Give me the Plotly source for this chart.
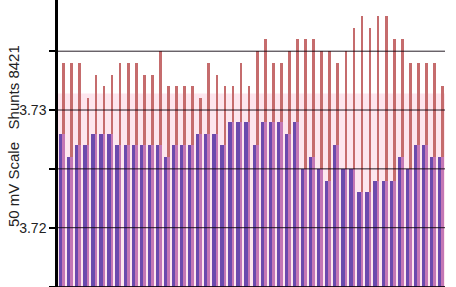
import plotly.graph_objects as go

# Data (48 readings)
red_vals = [3.734, 3.734, 3.734, 3.731, 3.733, 3.732, 3.733, 3.734, 3.734, 3.734,
            3.733, 3.733, 3.735, 3.732, 3.732, 3.732, 3.732, 3.731, 3.734, 3.733,
            3.732, 3.732, 3.734, 3.732, 3.735, 3.736, 3.734, 3.734, 3.735, 3.736,
            3.736, 3.736, 3.735, 3.735, 3.734, 3.735, 3.737, 3.738, 3.737, 3.738,
            3.738, 3.736, 3.736, 3.734, 3.734, 3.734, 3.734, 3.732]
purple_vals = [3.728, 3.726, 3.727, 3.727, 3.728, 3.728, 3.728, 3.727, 3.727, 3.727,
               3.727, 3.727, 3.727, 3.726, 3.727, 3.727, 3.727, 3.728, 3.728, 3.728,
               3.727, 3.729, 3.729, 3.729, 3.727, 3.729, 3.729, 3.729, 3.728, 3.729,
               3.725, 3.726, 3.725, 3.724, 3.727, 3.725, 3.725, 3.723, 3.723, 3.724,
               3.724, 3.724, 3.726, 3.725, 3.727, 3.727, 3.726, 3.726]
idx = list(range(len(red_vals)))

tick_vals = [3.715, 3.72, 3.725, 3.73, 3.735]
tick_text = ["", "3.72", "", "3.73", ""]
y_range = [3.71496, 3.73935]
band_top = 3.7314

RED = "#c56c6d"
MAGENTA = "#c477b5"
PURPLE = "#6b4aad"
PINK = "#fde6ee"

fig = go.Figure()
fig.add_trace(go.Bar(x=idx, y=red_vals, offset=0.04, width=0.33,
                     marker=dict(color=RED, line=dict(width=0)), showlegend=False))
fig.add_trace(go.Bar(x=idx, y=purple_vals, offset=0.04, width=0.33,
                     marker=dict(color=MAGENTA, line=dict(width=0)), showlegend=False))
fig.add_trace(go.Bar(x=idx, y=purple_vals, offset=-0.37, width=0.41,
                     marker=dict(color=PURPLE, line=dict(width=0)), showlegend=False))

shapes = [dict(type="rect", xref="paper", yref="y", x0=0, x1=1, y0=y_range[0], y1=band_top,
               fillcolor=PINK, line=dict(width=0), layer="below")]
for v in tick_vals:
    shapes.append(dict(type="line", xref="paper", yref="y", x0=0, x1=1, y0=v, y1=v,
                       line=dict(color="rgba(15,5,15,0.9)", width=1), layer="above"))

fig.update_layout(
    width=456, height=287,
    margin=dict(l=58, r=11, t=0, b=0),
    paper_bgcolor="white", plot_bgcolor="white",
    barmode="overlay", bargap=0,
    shapes=shapes,
    xaxis=dict(visible=False, range=[-0.5, len(red_vals) - 0.5]),
    yaxis=dict(range=y_range, showgrid=False, zeroline=False,
               showline=True, linecolor="black", linewidth=2.5,
               ticks="outside", ticklen=6, tickwidth=1.5, tickcolor="black",
               tickvals=tick_vals, ticktext=tick_text,
               tickfont=dict(family="Liberation Sans, Arial, sans-serif", size=14, color="#222")),
    annotations=[dict(text="50 mV Scale\u00a0\u00a0\u00a0Shunts 8421", textangle=-90,
                      xref="paper", yref="paper", x=(13 - 58) / 387, y=1 - 136 / 287,
                      xanchor="center", yanchor="middle", showarrow=False,
                      font=dict(family="Liberation Sans, Arial, sans-serif", size=15, color="#222"))],
)

fig.write_html("out.html")
